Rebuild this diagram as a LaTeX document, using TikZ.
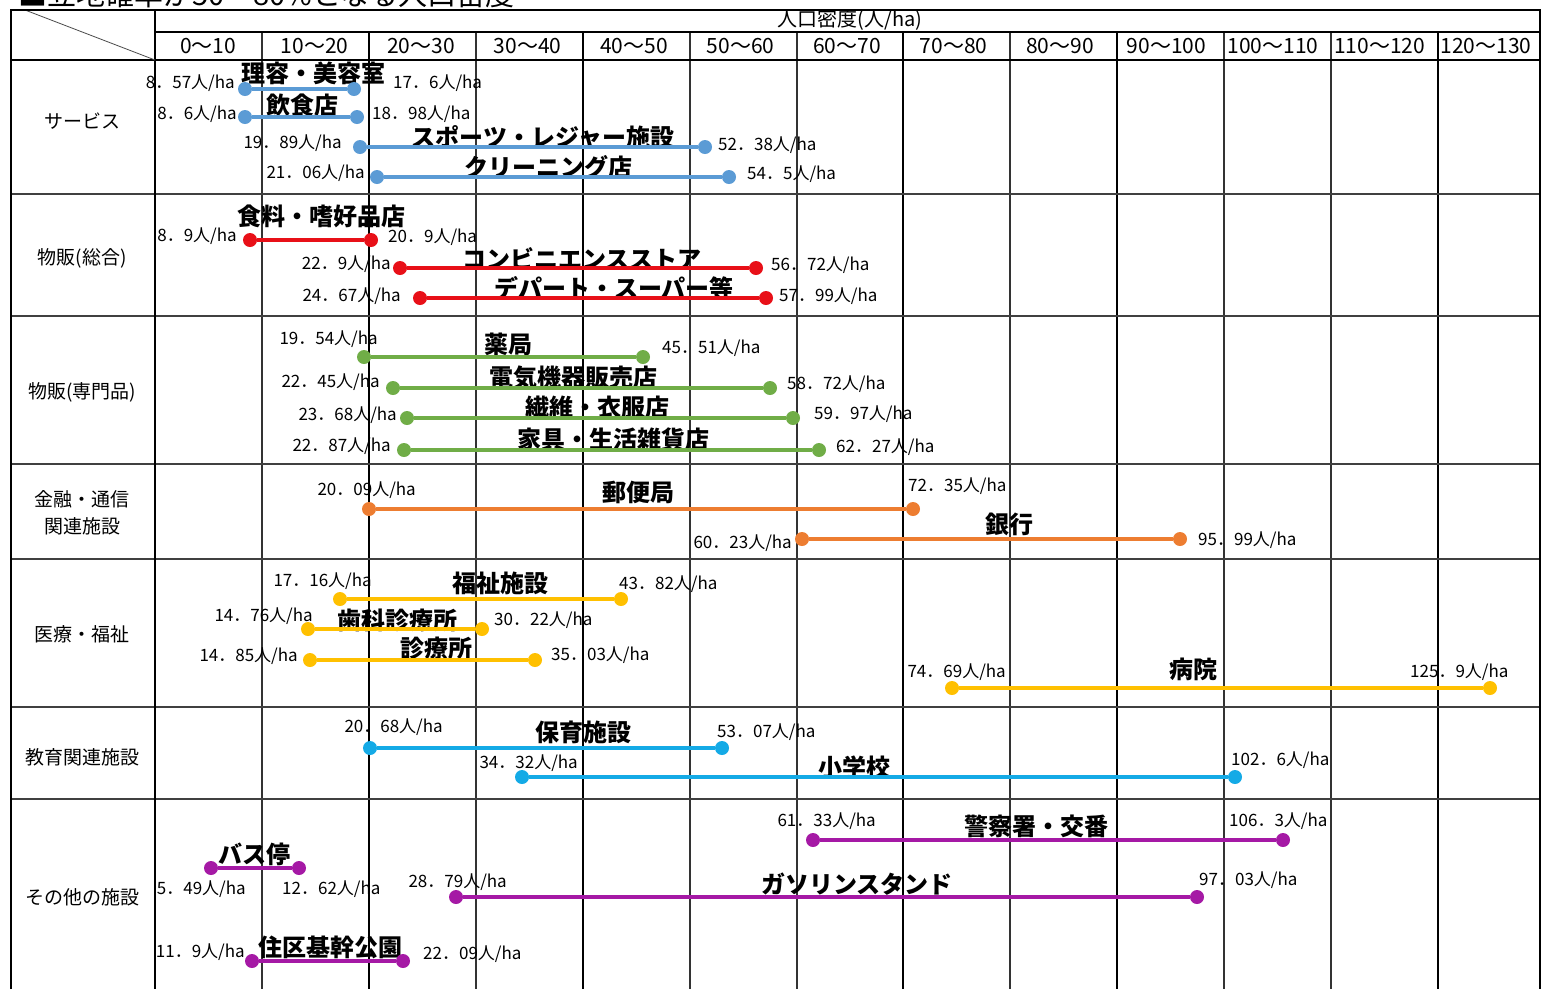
\documentclass[tikz,border=0pt]{standalone}
\usepackage{fontspec}
\setmainfont{Noto Sans CJK JP}
\definecolor{svcblue}{RGB}{91,155,213}
\definecolor{genred}{RGB}{232,16,24}
\definecolor{spcgreen}{RGB}{112,173,71}
\definecolor{finorange}{RGB}{237,125,49}
\definecolor{medyellow}{RGB}{255,192,0}
\definecolor{educyan}{RGB}{20,170,230}
\definecolor{othpurple}{RGB}{165,25,165}
\tikzset{
	enddot/.style={circle, inner sep=0pt, minimum size=14pt},
	rng/.style={line width=4pt},
	val/.style={inner sep=0pt, font=\fontsize{17}{17}\selectfont},
	fac/.style={inner sep=0pt, font=\bfseries\fontsize{24}{24}\selectfont},
	grp/.style={inner sep=0pt, align=center, font=\fontsize{19}{27}\selectfont},
	hdr/.style={inner sep=0pt, font=\fontsize{21}{21}\selectfont}
}
\def\rangebar#1#2#3#4#5{%
	\node[enddot, fill=#2] (#1L) at (#4, #3) {};
	\node[enddot, fill=#2] (#1R) at (#5, #3) {};
	\draw[rng, color=#2] (#1L) -- (#1R);}

\begin{document}
\begin{tikzpicture}[x=1pt, y=-1pt]
		%%%%% FRAME %%%%%
		\useasboundingbox (0, 0) rectangle (1542, 989);
		
		\node[anchor=base west, inner sep=0pt, font=\fontsize{29}{29}\selectfont] (title) at (18, 5) {■立地確率が50～80\%となる人口密度};
		
		\foreach \x in {262, 476, 690, 797, 1010, 1224, 1331}
			\draw[line width=1.3pt, color=black!80] (\x, 32) -- (\x, 989);
		\foreach \x in {369, 583, 903, 1117, 1438}
			\draw[line width=2.4pt] (\x, 32) -- (\x, 989);
		\foreach \y in {194, 316, 464, 559, 707, 799}
			\draw[line width=1.6pt, color=black!75] (11, \y) -- (1540, \y);
		\draw[line width=1.6pt] (155, 32) -- (1540, 32);
		\draw[line width=1.8pt] (11, 60) -- (1540, 60);
		\draw[line width=1.6pt] (155, 10) -- (155, 989);
		\draw[line width=0.8pt, color=black!70] (25, 10) -- (155, 60);
		\draw[line width=2.4pt] (11, 989) -- (11, 10) -- (1540, 10) -- (1540, 989);
		
		\node[hdr, font=\fontsize{20}{20}\selectfont] (density) at (850, 20) {人口密度(人/ha)};
		\foreach \i in {0,...,12} {
			\pgfmathtruncatemacro\lo{10*\i}
			\pgfmathtruncatemacro\hi{10*\i+10}
			\node[hdr] (col\i) at ({208+106.5*\i}, 46) {\lo～\hi};
		}
		
		\node[grp] (service) at (82, 121) {サービス};
		\node[grp] (general) at (82, 258) {物販(総合)};
		\node[grp] (special) at (82, 392) {物販(専門品)};
		\node[grp] (finance) at (82, 513) {金融・通信\\関連施設};
		\node[grp] (medical) at (82, 634) {医療・福祉};
		\node[grp] (school) at (82, 757) {教育関連施設};
		\node[grp] (other) at (82, 897) {その他の施設};
		
		%%%%% NAMES %%%%%
		\node[fac] (riyoT) at (313, 73) {理容・美容室};
		\node[fac] (inshokuT) at (302, 105) {飲食店};
		\node[fac] (sportsT) at (543, 137) {スポーツ・レジャー施設};
		\node[fac] (cleanT) at (548, 167) {クリーニング店};
		\node[fac] (shokuT) at (321, 216) {食料・嗜好品店};
		\node[fac] (conveT) at (582, 259) {コンビニエンスストア};
		\node[fac] (departT) at (614, 288) {デパート・スーパー等};
		\node[fac] (yakuT) at (508, 344) {薬局};
		\node[fac] (denkiT) at (573, 378) {電気機器販売店};
		\node[fac] (seniT) at (597, 407) {繊維・衣服店};
		\node[fac] (kaguT) at (613, 439) {家具・生活雑貨店};
		\node[fac] (yubinT) at (638, 492) {郵便局};
		\node[fac] (ginkoT) at (1009, 524) {銀行};
		\node[fac] (fukuT) at (500, 583) {福祉施設};
		\node[fac] (shikaT) at (397, 620) {歯科診療所};
		\node[fac] (shinT) at (436, 648) {診療所};
		\node[fac] (byoinT) at (1193, 669) {病院};
		\node[fac] (hoikuT) at (583, 732) {保育施設};
		\node[fac] (shogaT) at (854, 767) {小学校};
		\node[fac] (keiT) at (1036, 826) {警察署・交番};
		\node[fac] (busT) at (254, 854) {バス停};
		\node[fac] (gasT) at (857, 884) {ガソリンスタンド};
		\node[fac] (koenT) at (330, 947) {住区基幹公園};
		
		%%%%% VALUES %%%%%
		\node[val, anchor=east] (riyoLv) at (235, 83) {8．57人/ha};
		\node[val, anchor=west] (riyoRv) at (393, 83) {17．6人/ha};
		\node[val, anchor=east] (inshokuLv) at (237, 114) {8．6人/ha};
		\node[val, anchor=west] (inshokuRv) at (372, 114) {18．98人/ha};
		\node[val, anchor=east] (sportsLv) at (342, 143) {19．89人/ha};
		\node[val, anchor=west] (sportsRv) at (718, 145) {52．38人/ha};
		\node[val, anchor=east] (cleanLv) at (365, 173) {21．06人/ha};
		\node[val, anchor=west] (cleanRv) at (747, 174) {54．5人/ha};
		\node[val, anchor=east] (shokuLv) at (237, 236) {8．9人/ha};
		\node[val, anchor=west] (shokuRv) at (388, 237) {20．9人/ha};
		\node[val, anchor=east] (conveLv) at (391, 264) {22．9人/ha};
		\node[val, anchor=west] (conveRv) at (771, 265) {56．72人/ha};
		\node[val, anchor=east] (departLv) at (401, 296) {24．67人/ha};
		\node[val, anchor=west] (departRv) at (779, 296) {57．99人/ha};
		\node[val, anchor=east] (yakuLv) at (378, 339) {19．54人/ha};
		\node[val, anchor=west] (yakuRv) at (662, 348) {45．51人/ha};
		\node[val, anchor=east] (denkiLv) at (380, 382) {22．45人/ha};
		\node[val, anchor=west] (denkiRv) at (787, 384) {58．72人/ha};
		\node[val, anchor=east] (seniLv) at (397, 415) {23．68人/ha};
		\node[val, anchor=west] (seniRv) at (814, 414) {59．97人/ha};
		\node[val, anchor=east] (kaguLv) at (391, 446) {22．87人/ha};
		\node[val, anchor=west] (kaguRv) at (836, 447) {62．27人/ha};
		\node[val, anchor=east] (yubinLv) at (416, 490) {20．09人/ha};
		\node[val, anchor=west] (yubinRv) at (908, 486) {72．35人/ha};
		\node[val, anchor=east] (ginkoLv) at (792, 543) {60．23人/ha};
		\node[val, anchor=west] (ginkoRv) at (1198, 540) {95．99人/ha};
		\node[val, anchor=east] (fukuLv) at (372, 581) {17．16人/ha};
		\node[val, anchor=west] (fukuRv) at (619, 584) {43．82人/ha};
		\node[val, anchor=east] (shikaLv) at (313, 616) {14．76人/ha};
		\node[val, anchor=west] (shikaRv) at (494, 620) {30．22人/ha};
		\node[val, anchor=east] (shinLv) at (298, 656) {14．85人/ha};
		\node[val, anchor=west] (shinRv) at (551, 655) {35．03人/ha};
		\node[val, anchor=east] (byoinLv) at (1006, 672) {74．69人/ha};
		\node[val, anchor=west] (byoinRv) at (1410, 672) {125．9人/ha};
		\node[val, anchor=east] (hoikuLv) at (443, 727) {20．68人/ha};
		\node[val, anchor=west] (hoikuRv) at (717, 732) {53．07人/ha};
		\node[val, anchor=east] (shogaLv) at (578, 763) {34．32人/ha};
		\node[val, anchor=west] (shogaRv) at (1231, 760) {102．6人/ha};
		\node[val, anchor=east] (keiLv) at (876, 821) {61．33人/ha};
		\node[val, anchor=west] (keiRv) at (1229, 821) {106．3人/ha};
		\node[val, anchor=east] (busLv) at (246, 889) {5．49人/ha};
		\node[val, anchor=west] (busRv) at (282, 889) {12．62人/ha};
		\node[val, anchor=east] (gasLv) at (507, 882) {28．79人/ha};
		\node[val, anchor=west] (gasRv) at (1199, 880) {97．03人/ha};
		\node[val, anchor=east] (koenLv) at (245, 952) {11．9人/ha};
		\node[val, anchor=west] (koenRv) at (423, 954) {22．09人/ha};
		
		%%%%% BARS %%%%%
		\rangebar{riyo}{svcblue}{89}{245}{354}
		\rangebar{inshoku}{svcblue}{117}{245}{357}
		\rangebar{sports}{svcblue}{147}{360}{705}
		\rangebar{clean}{svcblue}{177}{377}{729}
		
		\rangebar{shoku}{genred}{240}{250}{371}
		\rangebar{conve}{genred}{268}{400}{756}
		\rangebar{depart}{genred}{298}{420}{766}
		
		\rangebar{yaku}{spcgreen}{357}{364}{643}
		\rangebar{denki}{spcgreen}{388}{393}{770}
		\rangebar{seni}{spcgreen}{418}{407}{793}
		\rangebar{kagu}{spcgreen}{450}{404}{819}
		
		\rangebar{yubin}{finorange}{509}{369}{913}
		\rangebar{ginko}{finorange}{539}{802}{1180}
		
		\rangebar{fuku}{medyellow}{599}{340}{621}
		\rangebar{shika}{medyellow}{629}{308}{482}
		\rangebar{shin}{medyellow}{660}{310}{535}
		\rangebar{byoin}{medyellow}{688}{952}{1490}
		
		\rangebar{hoiku}{educyan}{748}{370}{722}
		\rangebar{shoga}{educyan}{777}{522}{1235}
		
		\rangebar{kei}{othpurple}{840}{813}{1283}
		\rangebar{bus}{othpurple}{868}{211}{299}
		\rangebar{gas}{othpurple}{897}{456}{1197}
		\rangebar{koen}{othpurple}{961}{252}{403}
		
		%%%%% END %%%%%
\end{tikzpicture}
\end{document}
